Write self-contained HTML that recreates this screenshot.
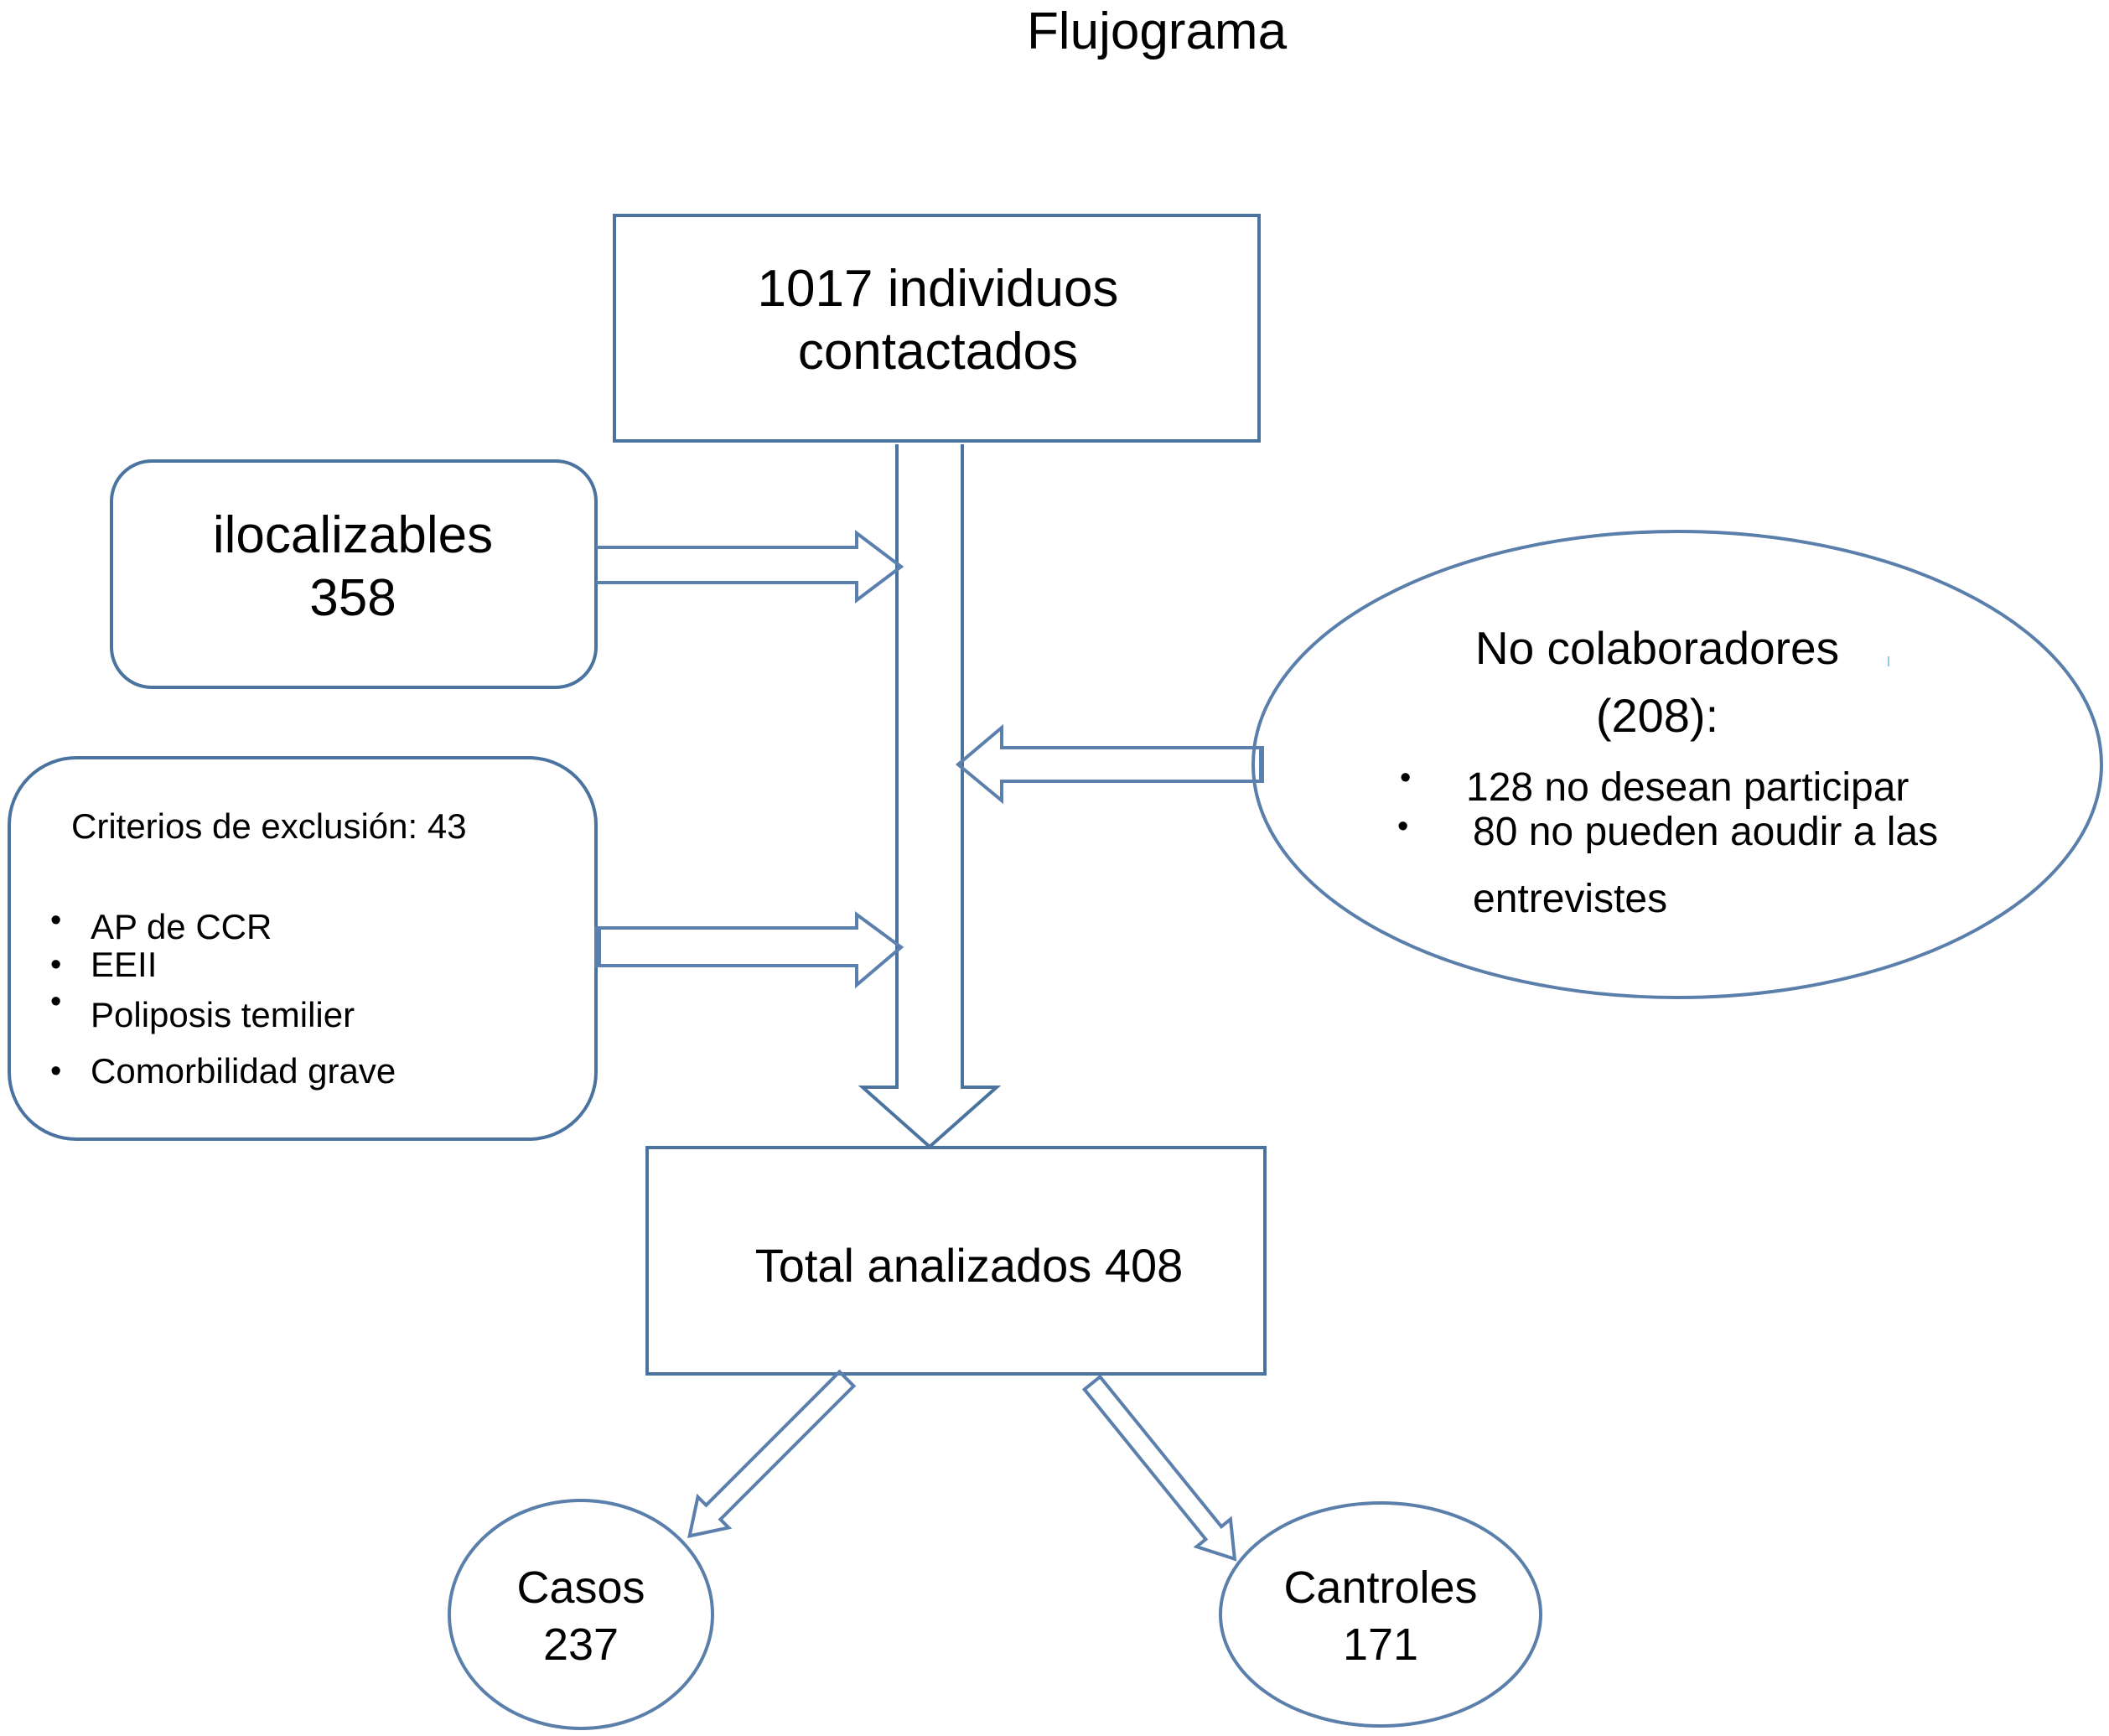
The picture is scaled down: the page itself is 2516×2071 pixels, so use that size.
<!DOCTYPE html>
<html><head><meta charset="utf-8"><style>
html,body{margin:0;padding:0;background:#fff;}
svg{display:block;}
text{font-family:"Liberation Sans",sans-serif;fill:#000;}
</style></head><body>
<svg width="2516" height="2071" viewBox="0 0 2516 2071" xmlns="http://www.w3.org/2000/svg">
<g fill="none" stroke="#4a73a0" stroke-width="4">
<rect x="733" y="257" width="769" height="269"/>
<rect x="133" y="550" width="578" height="270" rx="48"/>
<rect x="11" y="904" width="700" height="455" rx="80"/>
<rect x="772" y="1369" width="737" height="270"/>
<ellipse cx="2001" cy="912" rx="506" ry="278" stroke="#5a7fab"/>
<ellipse cx="693" cy="1926" rx="157" ry="136" stroke="#5a7fab"/>
<ellipse cx="1647" cy="1926" rx="191" ry="133" stroke="#5a7fab"/>
<polyline points="1070,530 1070,1297 1029,1297 1109,1368 1189,1297 1148,1297 1148,530"/>
</g>
<g fill="none" stroke="#5b80ad" stroke-width="4">
<polyline points="711,653 1022,653 1022,636 1075,676 1022,716 1022,695 711,695"/>
<polyline points="711,1107 1022,1107 1022,1091 1075,1130 1022,1175 1022,1152 711,1152"/>
<line x1="713" y1="1105" x2="713" y2="1154" stroke-width="8"/>
<polyline points="1505,892 1195,892 1195,868 1143,912 1195,955 1195,932 1505,932"/>
<line x1="1505" y1="890" x2="1505" y2="934" stroke-width="6"/>
<polygon transform="translate(1010,1645) rotate(135)" points="0,-12 225,-12 225,-26 265,0 225,26 225,12 0,12"/>
<polygon transform="translate(1303,1650) rotate(51)" points="0,-12 230,-12 230,-26 270,0 230,26 230,12 0,12"/>
</g>
<text x="1380" y="58" font-size="62" text-anchor="middle">Flujograma</text>
<text x="1119" y="365" font-size="62" text-anchor="middle">1017 individuos</text>
<text x="1119" y="440" font-size="62" text-anchor="middle">contactados</text>
<text x="421" y="659" font-size="62" text-anchor="middle">ilocalizables</text>
<text x="421" y="734" font-size="62" text-anchor="middle">358</text>
<text x="85" y="1000" font-size="42">Criterios de exclusión: 43</text>
<g font-size="42">
<text x="60" y="1110" font-size="38">•</text><text x="108" y="1120">AP de CCR</text>
<text x="60" y="1163" font-size="38">•</text><text x="108" y="1165">EEII</text>
<text x="60" y="1207" font-size="38">•</text><text x="108" y="1225">Poliposis temilier</text>
<text x="60" y="1290" font-size="38">•</text><text x="108" y="1292">Comorbilidad grave</text>
</g>
<g font-size="48">
<text x="1977" y="792" text-anchor="middle" font-size="55">No colaboradores</text>
<text x="1977" y="873" text-anchor="middle" font-size="56">(208):</text>
<text x="1670" y="940" font-size="38">•</text><text x="1749" y="955">128 no desean participar</text>
<text x="1667" y="998" font-size="38">•</text><text x="1757" y="1008">80 no pueden aoudir a las</text>
<text x="1757" y="1088">entrevistes</text>
</g>
<rect x="2252" y="783" width="2" height="12" fill="#8fc8e8"/>
<text x="1156" y="1529" font-size="56" text-anchor="middle">Total analizados 408</text>
<text x="693" y="1912" font-size="54" text-anchor="middle">Casos</text>
<text x="693" y="1980" font-size="54" text-anchor="middle">237</text>
<text x="1647" y="1912" font-size="54" text-anchor="middle">Cantroles</text>
<text x="1647" y="1980" font-size="54" text-anchor="middle">171</text>
</svg>
</body></html>
